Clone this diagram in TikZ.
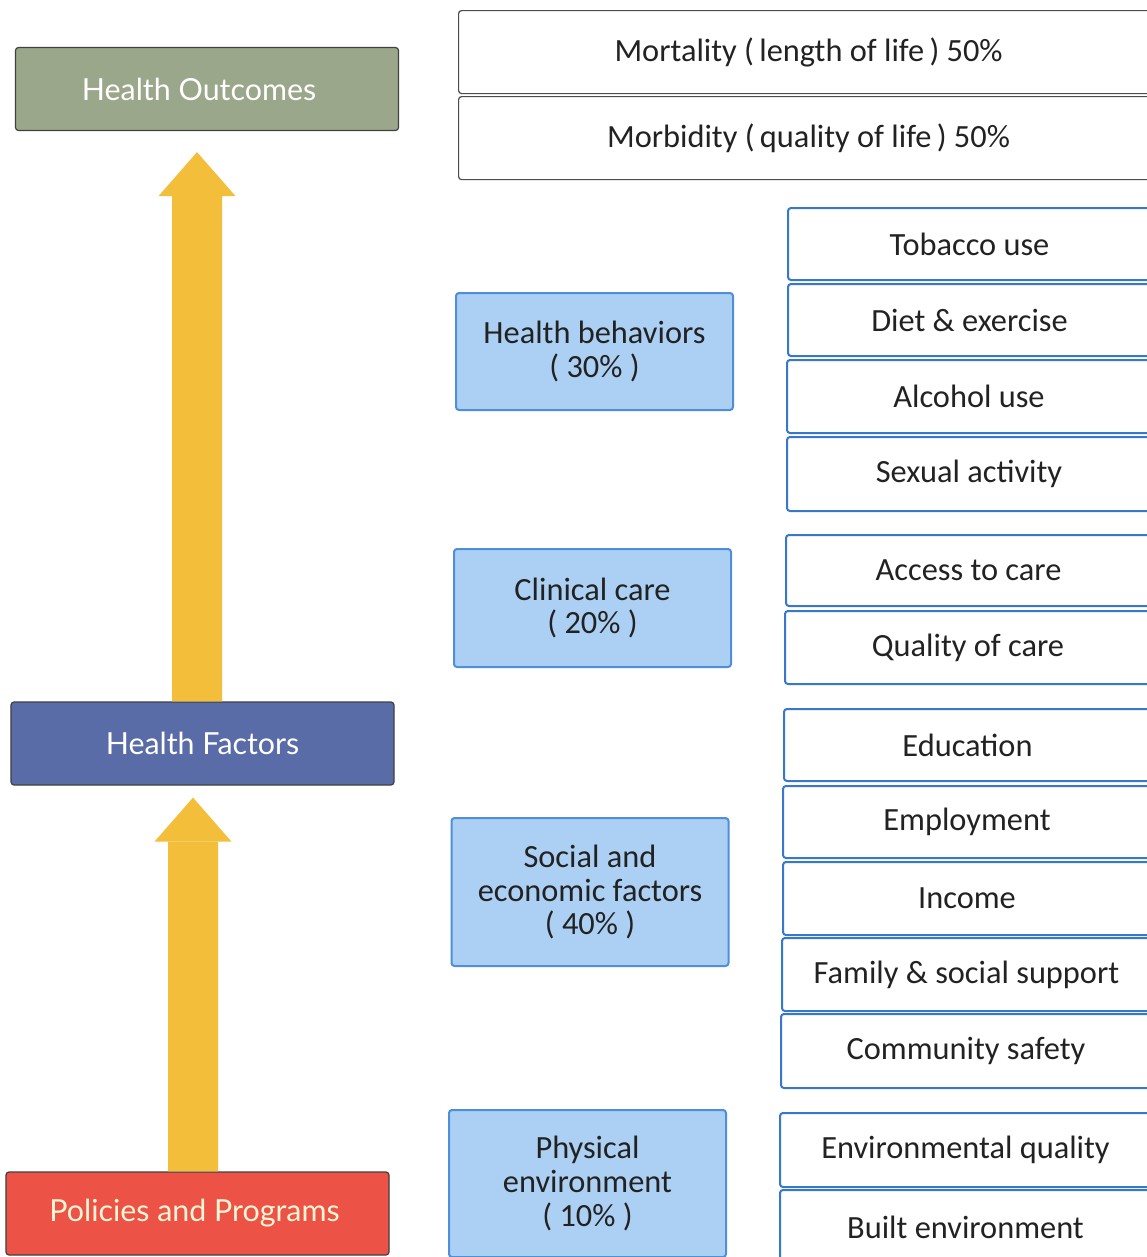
\documentclass[tikz,border=0pt]{standalone}
\usepackage{fontspec}
\setmainfont{Carlito}
\newfontfamily\labelfont{Lato}
\usetikzlibrary{arrows.meta}
\definecolor{outcomegreen}{RGB}{155,167,138}
\definecolor{factorblue}{RGB}{90,108,168}
\definecolor{policyred}{RGB}{236,82,70}
\definecolor{policytext}{RGB}{255,246,214}
\definecolor{arrowgold}{RGB}{243,190,58}
\definecolor{catfill}{RGB}{172,208,243}
\definecolor{catline}{RGB}{78,142,218}
\definecolor{itemline}{RGB}{56,120,204}
\definecolor{inktext}{RGB}{34,34,34}

\begin{document}
\begin{tikzpicture}[x=1bp,y=-1bp,
  lvl/.style={draw=black!75,line width=1.2bp,rounded corners=3bp,minimum width=383bp,minimum height=83bp,text=white,font=\labelfont\fontsize{30.5}{34}\selectfont},
  outbox/.style={draw=black!70,line width=1.2bp,rounded corners=3bp,fill=white,anchor=north west,minimum width=700bp,minimum height=83bp,text=inktext,font=\fontsize{32.5}{35}\selectfont},
  catbox/.style={draw=catline,line width=2bp,rounded corners=3bp,fill=catfill,minimum width=277bp,text=inktext,align=center,font=\fontsize{32.5}{34}\selectfont},
  itembox/.style={draw=itemline,line width=2bp,rounded corners=3bp,fill=white,anchor=north west,minimum height=72bp,text=inktext,font=\fontsize{32.5}{35}\selectfont},
  uparrow/.style={draw=arrowgold,line width=50bp,-{Triangle[width=77bp,length=44bp,line width=0pt]}}]
\clip (0,0) rectangle (1147,1257);
\fill[white] (0,0) rectangle (1147,1257);

\node[lvl,fill=outcomegreen] (ho) at (207,89) {Health Outcomes\hspace*{16bp}};
\node[lvl,fill=factorblue] (hf) at (202.5,743.5) {Health Factors};
\node[lvl,fill=policyred,text=policytext] (pp) at (197.5,1213.5) {Policies and Programs\hspace*{6bp}};

\draw[uparrow] ([xshift=-5.5bp]hf.north) -- ([xshift=-10bp,yshift=-21bp]ho.south);
\draw[uparrow] ([xshift=-4.5bp]pp.north) -- ([xshift=-9.5bp,yshift=-12bp]hf.south);

\node[outbox] (mort) at (458,10) {Mortality (\,length of life\,) 50\%};
\node[outbox] (morb) at (458,96) {Morbidity (\,quality of life\,) 50\%};

\node[catbox,minimum height=117bp] (beh) at (594.5,351.5) {Health behaviors\\( 30\% )};
\node[catbox,minimum height=118bp] (clin) at (592.5,608) {Clinical care\\( 20\% )};
\node[catbox,minimum height=148bp] (soc) at (590,892) {Social and\\economic factors\\( 40\% )};
\node[catbox,minimum height=147bp] (phys) at (587.5,1183.5) {Physical\\environment\\( 10\% )};

\node[itembox,minimum width=363bp] (tob) at (787,207) {Tobacco use};
\node[itembox,minimum width=363bp] (diet) at (787,283) {Diet \& exercise};
\node[itembox,minimum width=364bp,minimum height=73bp] (alc) at (786,359) {Alcohol use};
\node[itembox,minimum width=364bp,minimum height=74bp] (sex) at (786,436) {Sexual activity};
\node[itembox,minimum width=365bp,minimum height=71bp] (acc) at (785,534) {Access to care};
\node[itembox,minimum width=366bp,minimum height=73bp] (qual) at (784,610) {Quality of care};
\node[itembox,minimum width=367bp] (edu) at (783,708) {Education};
\node[itembox,minimum width=368bp] (emp) at (782,785) {Employment};
\node[itembox,minimum width=368bp,minimum height=73bp] (inc) at (782,861) {Income};
\node[itembox,minimum width=369bp,minimum height=73bp] (fam) at (781,937) {Family \& social support};
\node[itembox,minimum width=370bp,minimum height=74bp] (comm) at (780,1013) {Community safety};
\node[itembox,minimum width=371bp,minimum height=74bp] (envq) at (779,1112) {Environmental quality};
\node[itembox,minimum width=371bp,minimum height=74bp] (built) at (779,1189) {Built environment};
\end{tikzpicture}
\end{document}
